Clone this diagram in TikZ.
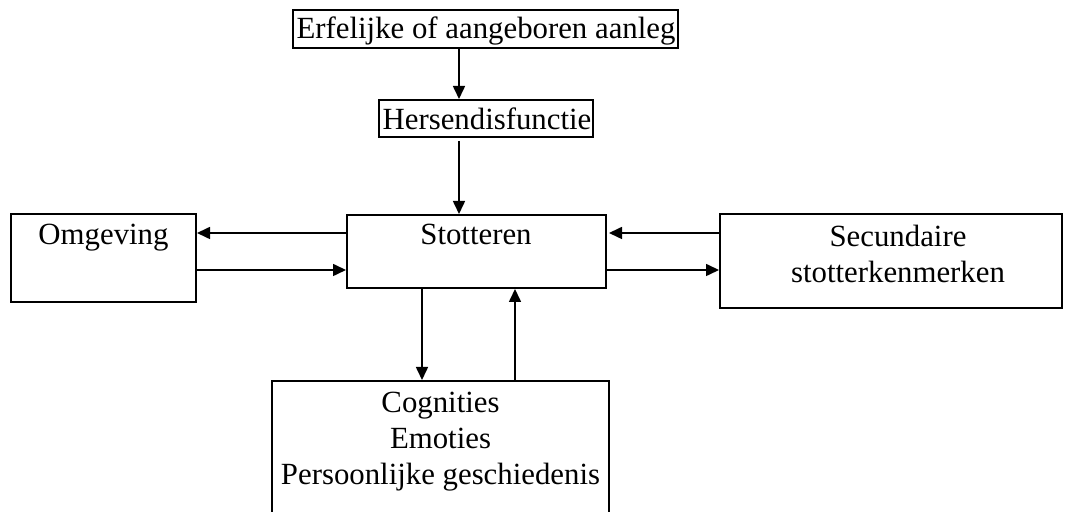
\documentclass[tikz,border=0pt]{standalone}
\usepackage{fontspec}
\setmainfont{Liberation Serif}
\usetikzlibrary{arrows.meta,positioning}
\tikzset{
mybox/.style={
  rectangle,
  line width=1pt,
  inner sep=0pt,
  draw=black,
  }
}
\tikzset{
mytext/.style={
  inner sep=0pt,
  align=center,
  anchor=base,
  font=\fontsize{15.4}{18}\selectfont,
  }
}
\tikzset{
myline/.style={
  line width=0.8pt,
  -{Triangle[length=6.5pt,width=6pt]}
  }
}

\begin{document}
\begin{tikzpicture}[x=0.5pt,y=-0.5pt]
  \useasboundingbox (0,0) rectangle (1072,512);
  \begin{scope}
    \clip (0,0) rectangle (1072,512);
    % boxes
    \node[mybox, minimum width=192.5pt, minimum height=19pt] (erf) at (485.5,29) {};
    \node[mybox, minimum width=107pt, minimum height=18.5pt] (hers) at (486,118.5) {};
    \node[mybox, minimum width=129.5pt, minimum height=36.5pt] (stot) at (476.5,251.5) {};
    \node[mybox, minimum width=92.5pt, minimum height=44pt] (omg) at (103.5,258) {};
    \node[mybox, minimum width=171pt, minimum height=47pt] (sec) at (891,261) {};
    \node[mybox, minimum width=168.5pt, minimum height=70pt] (cog) at (440.5,451) {};
    % texts (base = last line)
    \node[mytext] (erf-t) at (486,39) {Erfelijke of aangeboren aanleg};
    \node[mytext] (hers-t) at (487,130) {Hersendisfunctie};
    \node[mytext] (stot-t) at (476,245) {Stotteren};
    \node[mytext] (omg-t) at (103.5,245) {Omgeving};
    \node[mytext] (sec-t) at (898,283) {Secundaire\\stotterkenmerken};
    \node[mytext] (cog-t) at (440.5,485) {Cognities\\Emoties\\Persoonlijke geschiedenis};
    % helper coordinates for the arrows
    \coordinate (hx) at (459,0);
    \coordinate (dx) at (422,0);
    \coordinate (ux) at (515,0);
    \coordinate (ya) at (0,233);
    \coordinate (yb) at (0,270);
    % arrows
    \draw[myline] (erf.south -| hx) -- (hers.north -| hx);
    \draw[myline] ([yshift=-1.5pt]hers.south -| hx) -- (stot.north -| hx);
    \draw[myline] (stot.west |- ya) -- (omg.east |- ya);
    \draw[myline] (omg.east |- yb) -- (stot.west |- yb);
    \draw[myline] (sec.west |- ya) -- ([xshift=1pt]stot.east |- ya);
    \draw[myline] (stot.east |- yb) -- (sec.west |- yb);
    \draw[myline] (stot.south -| dx) -- (cog.north -| dx);
    \draw[myline] (cog.north -| ux) -- (stot.south -| ux);
  \end{scope}
\end{tikzpicture}
\end{document}
